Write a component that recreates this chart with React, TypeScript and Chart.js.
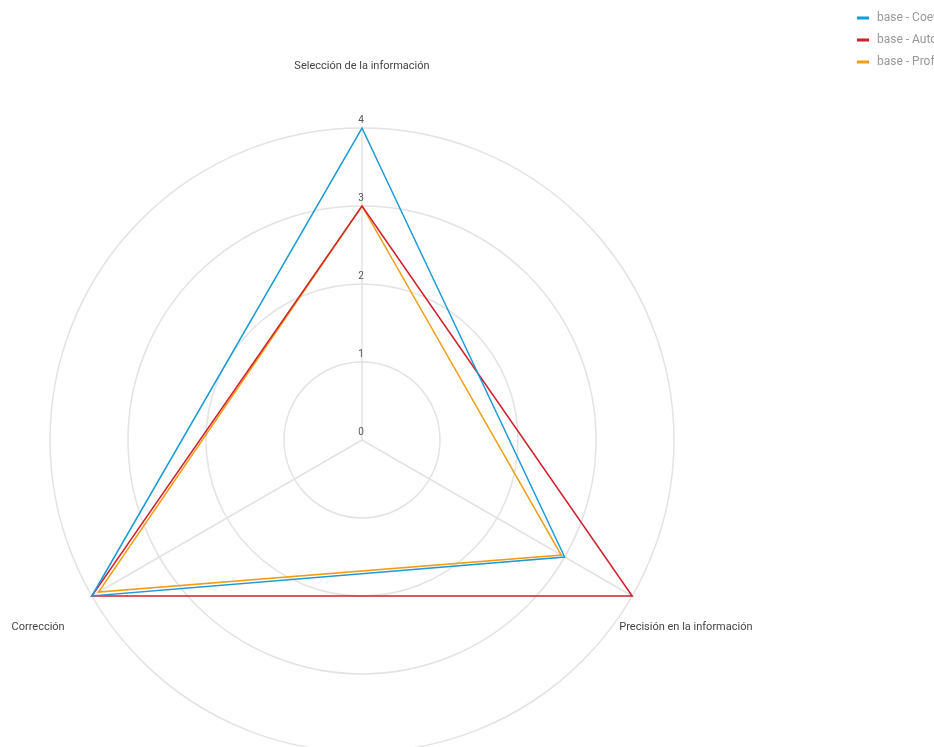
import React, { useEffect, useRef } from 'react';
import { Chart, registerables } from 'chart.js';

Chart.register(...registerables);

const categories = ['Selección de la información', 'Precisión en la información', 'Corrección'];
const seriesNames = ['base - Coevaluación', 'base - Autoevaluación', 'base - Profesor'];
const coevaluacion = [4, 3, 4];
const autoevaluacion = [3, 4, 4];
const profesor = [3, 2.95, 3.9];
const tickValues = [0, 1, 2, 3, 4];
const tickLabels = ['0', '1', '2', '3', '4'];
const seriesColors = ['#1a9ad8', '#d0202e', '#f39c12'];

const overlayPlugin = {
  id: 'overlay',
  afterDraw(chart: any) {
    const ctx = chart.ctx;
    const r = chart.scales.r;
    const outer = r.getDistanceFromCenterForValue(r.max);
    ctx.save();
    // tick labels (drawn slightly above each ring)
    ctx.font = '10px Roboto';
    ctx.fillStyle = '#555';
    ctx.textAlign = 'center';
    ctx.textBaseline = 'middle';
    tickValues.forEach((v, i) => {
      const d = r.getDistanceFromCenterForValue(v);
      ctx.fillText(tickLabels[i], r.xCenter - 1, r.yCenter - d - 8);
    });
    // point labels, centred on each spoke beyond the outer ring
    ctx.font = '11px Roboto';
    ctx.fillStyle = '#444';
    (chart.data.labels as string[]).forEach((lab, i) => {
      const p = r.getPointPosition(i, outer + 62);
      ctx.fillText(lab, p.x, p.y);
    });
    // legend
    ctx.textAlign = 'left';
    ctx.font = '12px Roboto';
    chart.data.datasets.forEach((ds: any, i: number) => {
      const y = 18 + i * 22;
      ctx.fillStyle = ds.borderColor;
      ctx.fillRect(857, y - 1.5, 12, 3);
      ctx.fillStyle = '#999';
      ctx.fillText(ds.label, 877, y);
    });
    ctx.restore();
  },
};

export default function App() {
  const canvasRef = useRef<HTMLCanvasElement | null>(null);

  useEffect(() => {
    if (!canvasRef.current) return;
    const values = [coevaluacion, autoevaluacion, profesor];
    const chart = new Chart(canvasRef.current, {
      type: 'radar',
      data: {
        labels: categories,
        datasets: seriesNames.map((name, i) => ({
          label: name,
          data: values[i],
          borderColor: seriesColors[i],
          backgroundColor: 'transparent',
          borderWidth: 1.5,
          fill: false,
          pointRadius: 0,
          pointHoverRadius: 0,
        })),
      },
      options: {
        responsive: false,
        animation: false,
        layout: { padding: { left: 50, right: 260, top: 128, bottom: 48 } },
        plugins: {
          legend: { display: false },
          tooltip: { enabled: false },
        },
        scales: {
          r: {
            min: 0,
            max: 4,
            ticks: { display: false, stepSize: 1 },
            pointLabels: { display: false },
            grid: { color: '#e3e3e3', lineWidth: 1.5, circular: true },
            angleLines: { color: '#e3e3e3', lineWidth: 1.5 },
          },
        },
      },
      plugins: [overlayPlugin],
    });
    return () => chart.destroy();
  }, []);

  return (
    <div style={{ position: 'absolute', left: 0, top: 0, width: 934, height: 747, overflow: 'hidden', background: '#fff' }}>
      <canvas ref={canvasRef} width={934} height={800} style={{ display: 'block', width: 934, height: 800 }} />
    </div>
  );
}
